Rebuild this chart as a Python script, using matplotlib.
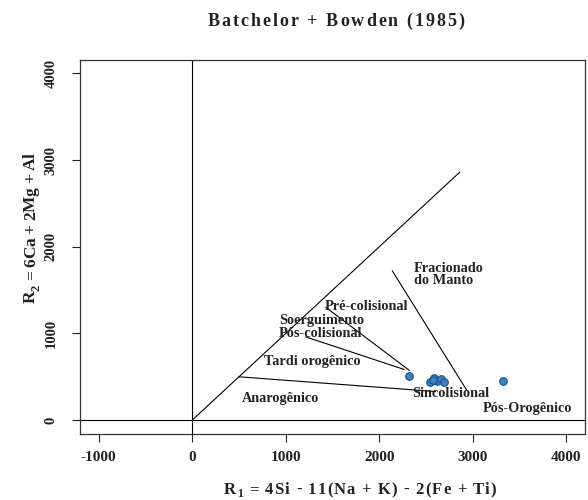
"""Batchelor + Bowden (1985) R1-R2 discrimination diagram."""
import matplotlib
matplotlib.use("Agg")
import matplotlib.pyplot as plt
from matplotlib import font_manager, ft2font

# sample points (R1, R2)
r1_values = [2320, 2540, 2590, 2620, 2660, 2690, 2570, 3320]
r2_values = [510, 440, 490, 450, 470, 445, 460, 455]

# field boundary lines, as (x list, y list)
boundary_lines = {
    "diagonal": ([0, 2860], [0, 2860]),
    "anarogenico": ([500, 2600], [500, 330]),
    "sin_colisional": ([2140, 2935], [1720, 345]),
    "pre_colisional": ([1430, 2320], [1300, 575]),
    "pos_colisional": ([1215, 2265], [960, 585]),
}

# field labels: (text, x, y)
field_labels = [
    ("Fracionado\ndo Manto", 2371, 1678),
    ("Pré-colisional", 1412, 1309),
    ("Soerguimento\nPós-colisional", 927, 1077),
    ("Tardi orogênico", 767, 672),
    ("Anarogênico", 528, 252),
    ("Sincolisional", 2353, 309),
    ("Pós-Orogênico", 3102, 137),
]

x_ticks = [-1000, 0, 1000, 2000, 3000, 4000]
y_ticks = [0, 1000, 2000, 3000, 4000]

TEXT_COLOR = "#222222"
DPI = 100

plt.rcParams["font.family"] = ["Liberation Serif", "DejaVu Serif"]
plt.rcParams["font.weight"] = "bold"


def char_advances(text, size):
    """Returns the pixel advance of each character of `text`."""
    prop = font_manager.FontProperties(family="Liberation Serif",
                                       weight="bold", size=size)
    font = ft2font.FT2Font(font_manager.findfont(prop), hinting_factor=1)
    font.set_size(size, DPI)
    return [font.load_char(ord(c)).linearHoriAdvance / 65536 for c in text]


def spaced_text(fig, cx, cy, segments, length, vertical=False):
    """Draws text stretched or squeezed to `length` pixels.

    (cx, cy) is the baseline centre in pixels from the bottom left.
    `segments` is a list of (text, size, dy) tuples; dy shifts the
    segment off the baseline in pixels (used for subscripts).
    """
    chars = []
    for text, size, dy in segments:
        for c, adv in zip(text, char_advances(text, size)):
            chars.append((c, adv, size, dy))
    natural = sum(c[1] for c in chars)
    gap = (length - natural) / (len(chars) - 1)
    pos = -length / 2
    for c, adv, size, dy in chars:
        if c != " ":
            if vertical:
                xy, rot = (cx - dy, cy + pos), 90
            else:
                xy, rot = (cx + pos, cy + dy), 0
            fig.text(*xy, c, transform=None, rotation=rot,
                     rotation_mode="anchor", ha="left", va="baseline",
                     fontsize=size, fontweight="bold", color=TEXT_COLOR)
        pos += adv + gap


fig = plt.figure(figsize=(5.88, 5.0), dpi=DPI)
ax = fig.add_axes([0.136, 0.132, 0.859, 0.749])

ax.axvline(0, color="black", lw=0.8)
ax.axhline(0, color="black", lw=0.8)
for xs, ys in boundary_lines.values():
    ax.plot(xs, ys, color="black", lw=0.8)

ax.scatter(r1_values, r2_values, s=30, marker="o", facecolor="#3a80c4",
           edgecolor="#1d4f80", linewidth=0.8, zorder=3)

for text, x, y in field_labels:
    ax.text(x, y, text, fontsize=10.3, fontweight="bold", ha="left",
            va="center", color=TEXT_COLOR, linespacing=0.95)

ax.set_xlim(-1200, 4200)
ax.set_ylim(-160, 4160)
ax.set_xticks(x_ticks)
ax.set_yticks(y_ticks)
ax.set_xticklabels([str(t) for t in x_ticks], fontsize=11, fontweight="bold")
ax.set_yticklabels([str(t) for t in y_ticks], fontsize=10.5,
                   fontweight="bold", rotation=90, va="center")
ax.tick_params(axis="x", direction="out", length=6, pad=6, colors=TEXT_COLOR)
ax.tick_params(axis="y", direction="out", length=6, pad=10, colors=TEXT_COLOR)
for spine in ax.spines.values():
    spine.set_linewidth(0.9)
    spine.set_color("#333333")

# title and axis titles (pixel coords from the bottom left)
spaced_text(fig, 336, 474, [("Batchelor + Bowden (1985)", 13, 0)], 257)
spaced_text(fig, 360, 6,
            [("R", 12, 0), ("1", 8.5, -3),
             (" = 4Si - 11(Na + K) - 2(Fe + Ti)", 12, 0)], 273)
spaced_text(fig, 35, 272,
            [("R", 12.5, 0), ("2", 9, -4),
             (" = 6Ca + 2Mg + Al", 12.5, 0)], 150, vertical=True)

fig.savefig("out.png", dpi=DPI)
